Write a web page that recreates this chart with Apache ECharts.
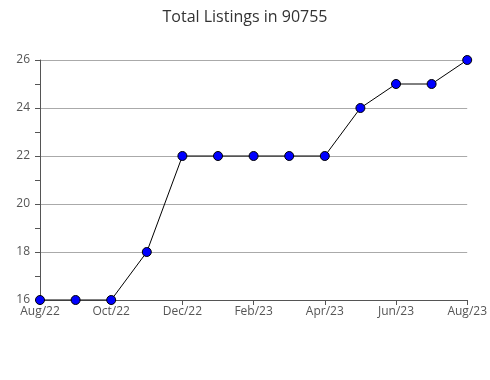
<!DOCTYPE html>
<html><head><meta charset="utf-8">
<script src="https://cdn.jsdelivr.net/npm/echarts@6/dist/echarts.min.js"></script>
<style>html,body{margin:0;padding:0;background:#fff}#c{width:490px;height:380px}</style>
</head><body><div id="c"></div>
<script>
const months = ["Aug/22","Sep/22","Oct/22","Nov/22","Dec/22","Jan/23","Feb/23","Mar/23","Apr/23","May/23","Jun/23","Jul/23","Aug/23"];
const listings = [16,16,16,18,22,22,22,22,22,24,25,25,26];
const titleText = "Total Listings in 90755";
const chart = echarts.init(document.getElementById('c'));
const font = "'Open Sans', sans-serif";
chart.setOption({
  animation: false,
  title: {text: titleText, left: 'center', top: 4, textStyle: {fontFamily: font, fontSize: 16, fontWeight: 'normal', color: '#333'}},
  grid: {left: 40, right: 20, top: 60, bottom: 80, containLabel: false},
  xAxis: {
    type: 'category', data: months, boundaryGap: false,
    axisLine: {lineStyle: {color: '#555'}},
    axisTick: {show: true, length: 5, lineStyle: {color: '#555'}},
    axisLabel: {interval: 1, fontFamily: font, fontSize: 12, color: '#555', margin: 6},
    splitLine: {show: false}
  },
  yAxis: {
    type: 'value', min: 16, max: 26, interval: 2,
    axisLine: {show: true, lineStyle: {color: '#555'}},
    axisTick: {show: true, length: 5, lineStyle: {color: '#555'}},
    minorTick: {show: true, splitNumber: 2, length: 5, lineStyle: {color: '#555'}},
    axisLabel: {fontFamily: font, fontSize: 12, color: '#555', margin: 10},
    splitLine: {show: true, lineStyle: {color: '#aaa', width: 1}}
  },
  series: [{
    type: 'line', data: listings,
    lineStyle: {color: '#000', width: 1},
    symbol: 'circle', symbolSize: 9,
    itemStyle: {color: '#0000ff', borderColor: '#000', borderWidth: 1}
  }]
});
</script></body></html>
